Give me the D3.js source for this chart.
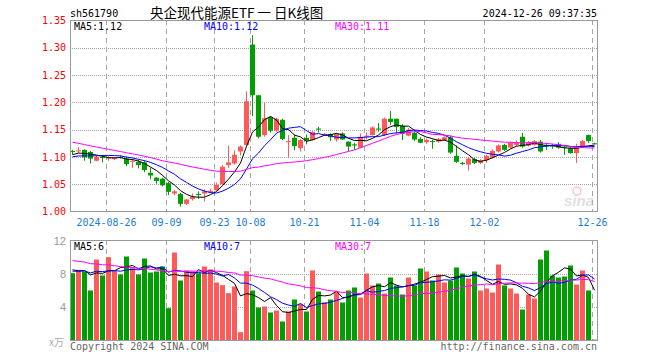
<!DOCTYPE html>
<html>
<head>
<meta charset="utf-8">
<script src="https://cdn.jsdelivr.net/npm/d3@7"></script>
<style>
body { margin: 0; background: #fff; }
.mono { font-family: "DejaVu Sans Mono", monospace; font-size: 10px; }
</style>
</head>
<body>
<div id="chart"></div>
<script>
// trading days shown (MM-DD, 2024)
var dates = ["08-16","08-19","08-20","08-21","08-22","08-23","08-26","08-27","08-28","08-29","08-30",
    "09-02","09-03","09-04","09-05","09-06","09-09","09-10","09-11","09-12","09-13","09-18","09-19","09-20",
    "09-23","09-24","09-25","09-26","09-27","09-30",
    "10-08","10-09","10-10","10-11","10-14","10-15","10-16","10-17","10-18","10-21","10-22","10-23","10-24","10-25",
    "10-28","10-29","10-30","10-31",
    "11-01","11-04","11-05","11-06","11-07","11-08","11-11","11-12","11-13","11-14","11-15","11-18","11-19","11-20",
    "11-21","11-22","11-25","11-26","11-27","11-28","11-29",
    "12-02","12-03","12-04","12-05","12-06","12-09","12-10","12-11","12-12","12-13","12-16","12-17","12-18","12-19",
    "12-20","12-23","12-24","12-25","12-26"];

var open = [1.111,1.110,1.113,1.109,1.093,1.100,1.097,1.096,1.100,1.097,1.091,1.091,1.090,1.071,1.062,1.060,
    1.052,1.033,1.032,1.014,1.023,1.032,1.033,1.035,1.039,1.050,1.085,1.088,1.110,1.122,
    1.306,1.213,1.140,1.173,1.148,1.168,1.127,1.135,1.116,1.135,1.131,1.152,1.142,1.142,1.132,1.143,1.128,1.123,
    1.117,1.137,1.140,1.152,1.140,1.170,1.170,1.157,1.139,1.144,1.133,1.127,1.129,1.128,1.131,1.136,1.102,1.089,
    1.086,1.096,1.089,1.094,1.099,1.110,1.122,1.117,1.122,1.137,1.121,1.122,1.128,1.122,1.122,1.124,1.119,1.116,
    1.107,1.119,1.140,1.125];
var high = [1.113,1.118,1.114,1.111,1.102,1.103,1.102,1.100,1.103,1.101,1.096,1.095,1.093,1.080,1.063,1.062,
    1.054,1.039,1.034,1.023,1.033,1.037,1.041,1.042,1.053,1.085,1.121,1.112,1.121,1.220,
    1.323,1.214,1.199,1.175,1.172,1.170,1.140,1.141,1.133,1.141,1.147,1.155,1.144,1.143,1.143,1.145,1.129,1.126,
    1.143,1.145,1.156,1.162,1.172,1.184,1.170,1.160,1.153,1.147,1.136,1.134,1.132,1.135,1.138,1.139,1.121,1.091,
    1.099,1.098,1.096,1.104,1.114,1.123,1.124,1.128,1.130,1.144,1.129,1.131,1.131,1.126,1.124,1.127,1.120,1.118,
    1.124,1.131,1.141,1.126];
var low = [1.104,1.107,1.093,1.088,1.092,1.090,1.093,1.094,1.097,1.083,1.080,1.079,1.072,1.059,1.051,1.046,
    1.030,1.030,1.009,1.012,1.020,1.023,1.018,1.034,1.037,1.048,1.080,1.086,1.103,1.118,
    1.175,1.134,1.137,1.145,1.146,1.131,1.099,1.112,1.110,1.123,1.130,1.145,1.139,1.129,1.128,1.131,1.110,1.113,
    1.116,1.132,1.139,1.146,1.138,1.159,1.143,1.131,1.138,1.129,1.125,1.124,1.115,1.126,1.129,1.106,1.089,1.085,
    1.075,1.087,1.087,1.089,1.097,1.108,1.111,1.115,1.120,1.117,1.119,1.121,1.108,1.113,1.115,1.115,1.104,1.106,
    1.089,1.117,1.126,1.123];
var close = [1.109,1.112,1.099,1.097,1.100,1.098,1.099,1.098,1.099,1.087,1.093,1.085,1.076,1.066,1.056,1.048,
    1.036,1.037,1.014,1.022,1.027,1.031,1.037,1.038,1.049,1.082,1.090,1.104,1.119,1.202,
    1.213,1.137,1.171,1.148,1.170,1.133,1.129,1.120,1.131,1.130,1.146,1.150,1.142,1.136,1.142,1.132,1.119,1.121,
    1.137,1.139,1.154,1.150,1.170,1.164,1.155,1.143,1.150,1.132,1.126,1.131,1.128,1.133,1.136,1.108,1.091,1.088,
    1.097,1.089,1.094,1.102,1.111,1.121,1.113,1.126,1.127,1.119,1.127,1.129,1.110,1.119,1.119,1.117,1.118,1.107,
    1.119,1.129,1.129,1.124];

// volume, 万
var volume = [8.08,8.48,8.28,6.0,9.72,7.8,10.0,8.32,7.92,10.08,8.72,7.92,9.84,8.16,8.28,8.88,
    3.88,10.56,7.2,8.4,8.28,8.08,8.88,8.52,6.96,6.64,5.68,6.48,1.0,8.32,
    6.0,3.96,4.08,3.36,3.6,2.28,3.48,4.92,4.4,3.48,8.4,5.88,4.6,4.92,5.8,4.56,6.0,6.36,
    5.16,8.04,6.6,6.84,5.64,7.56,6.6,5.52,7.56,6.6,8.64,8.28,7.2,7.92,6.96,7.2,8.76,8.04,
    7.44,8.28,6.0,6.24,5.76,9.12,6.6,6.24,5.64,3.72,5.52,5.04,9.72,10.8,7.8,7.56,7.68,9.0,
    6.72,8.4,6.0,0.1];

// sessions before the window, estimated from where the MA lines start
var priorClose = [1.172,1.170,1.165,1.166,1.162,1.160,1.158,1.162,1.155,1.150,1.148,1.145,1.140,1.142,1.137,
    1.100,1.094,1.090,1.096,1.095,1.095,1.099,1.097,1.098,1.092,1.098,1.102,1.104,1.108];
var priorVolume = [11.5,10.8,11.9,10.6,11.1,10.2,11.4,10.9,11.8,10.1,10.7,11.3,10.4,11.0,10.7,
    8.4,7.6,8.9,7.7,7.8,8.6,7.9,8.3,7.8,8.2,9.1,8.0,8.7,8.52];

var tickDates = ["08-26","09-09","09-23","10-08","10-21","11-04","11-18","12-02","12-26"];
var tickLabels = ["2024-08-26","09-09","09-23","10-08","10-21","11-04","11-18","12-02","12-26"];
var priceTicks = [1.00,1.05,1.10,1.15,1.20,1.25,1.30,1.35];
var volTicks = [4,8,12];
var maPeriods = [5,10,30];
var maColors = ["#000","#00f","#f0f"];
var priceMaText = ["MA5:1.12","MA10:1.12","MA30:1.11"];
var volMaText = ["MA5:6","MA10:7","MA30:7"];

var UP = "#ff5a5a", DOWN = "#009e00", GRID = "#a5a5a5";

function movingAvg(series, prior, n) {
    var all = prior.concat(series);
    return series.map(function (d, i) {
        var j = i + prior.length;
        return d3.mean(all.slice(j - n + 1, j + 1));
    });
}

var w = 660, h = 360,
    left = 70, right = 598,
    top1 = 20, bottom1 = 212,
    top2 = 240, bottom2 = 340;

var svg = d3.select("#chart").append("svg")
    .attr("width", w).attr("height", h)
    .style("display", "block");

var x = d3.scaleBand().domain(dates).range([left, right])
    .paddingInner(1 / 6).paddingOuter(1 / 12).align(0);
var bw = x.bandwidth();
var cx = function (d) { return x(d) + bw / 2; };

var y = d3.scaleLinear().domain([1.00, 1.35]).range([bottom1 - 0.5, top1 + 0.5]);
var yv = d3.scaleLinear().domain([0, 12]).range([bottom2 + 0.5, top2 + 0.5]);

var candles = dates.map(function (d, i) {
    return {date: d, o: open[i], h: high[i], l: low[i], c: close[i], v: volume[i]};
});

// ---------- grids ----------
function grid(y0, y1, hVals, scale) {
    var g = svg.append("g");
    g.selectAll(".vg").data(tickDates).enter().append("line")
        .attr("x1", function (d) { return x(d) + 0.5; })
        .attr("x2", function (d) { return x(d) + 0.5; })
        .attr("y1", y0).attr("y2", y1)
        .attr("stroke", GRID).attr("stroke-dasharray", "5,4");
    g.selectAll(".hg").data(hVals).enter().append("line")
        .attr("x1", left).attr("x2", right)
        .attr("y1", function (d) { return Math.round(scale(d)) + 0.5; })
        .attr("y2", function (d) { return Math.round(scale(d)) + 0.5; })
        .attr("stroke", GRID).attr("stroke-dasharray", "1,1");
}
grid(top1, bottom1, priceTicks.slice(1, -1), y);
grid(top2, bottom2, [4, 8], yv);

// sina watermark
var wm = svg.append("g").attr("opacity", 0.45);
wm.append("circle").attr("cx", 577).attr("cy", 191).attr("r", 4)
    .attr("fill", "none").attr("stroke", "#f7a0a0").attr("stroke-width", 2);
wm.append("text").attr("x", 564).attr("y", 206)
    .attr("font-family", "Liberation Sans, sans-serif").attr("font-size", 15)
    .attr("font-weight", "bold").attr("font-style", "italic")
    .attr("fill", "#bbb").text("sina");

// ---------- candles ----------
var cg = svg.append("g");
cg.selectAll(".wick").data(candles).enter().append("line")
    .attr("x1", cx).attr("x2", cx)
    .attr("y1", function (d) { return y(d.h); })
    .attr("y2", function (d) { return y(d.l); })
    .attr("stroke", function (d) { return d.c >= d.o ? UP : DOWN; })
    .attr("x1", function (d) { return Math.floor(cx(d.date)) + 0.5; })
    .attr("x2", function (d) { return Math.floor(cx(d.date)) + 0.5; });
cg.selectAll(".body").data(candles).enter().append("rect")
    .attr("x", function (d) { return x(d.date); })
    .attr("width", bw)
    .attr("y", function (d) { return y(Math.max(d.o, d.c)); })
    .attr("height", function (d) { return Math.max(1, Math.abs(y(d.o) - y(d.c))); })
    .attr("fill", function (d) { return d.c >= d.o ? UP : DOWN; });

// ---------- volume bars ----------
svg.append("g").selectAll("rect").data(candles).enter().append("rect")
    .attr("x", function (d) { return x(d.date); })
    .attr("width", bw)
    .attr("y", function (d) { return yv(d.v); })
    .attr("height", function (d) { return yv(0) - yv(d.v); })
    .attr("fill", function (d) { return d.c >= d.o ? UP : DOWN; });

// ---------- moving averages ----------
function drawMA(series, prior, scale) {
    maPeriods.forEach(function (n, k) {
        var ma = movingAvg(series, prior, n);
        var line = d3.line()
            .x(function (d, i) { return cx(dates[i]); })
            .y(function (d) { return scale(d); });
        svg.append("path").datum(ma)
            .attr("d", line)
            .attr("fill", "none")
            .attr("stroke", maColors[k])
            .attr("stroke-width", 1);
    });
}
drawMA(close, priorClose, y);
drawMA(volume, priorVolume, yv);

// ---------- frames ----------
svg.append("rect").attr("x", left + 0.5).attr("y", top1 + 0.5)
    .attr("width", right - left - 1).attr("height", bottom1 - top1 - 1)
    .attr("fill", "none").attr("stroke", "#999");
svg.append("rect").attr("x", left + 0.5).attr("y", top2 + 0.5)
    .attr("width", right - left - 1).attr("height", bottom2 - top2)
    .attr("fill", "none").attr("stroke", "#999");

// ---------- axes ----------
var ay = svg.append("g").attr("transform", "translate(" + left + ",0)")
    .call(d3.axisLeft(y).tickValues(priceTicks).tickSize(0).tickPadding(4)
        .tickFormat(d3.format(".2f")));
ay.select(".domain").remove();
ay.selectAll("text").attr("class", "mono").attr("font-family", null).attr("font-size", null)
    .attr("fill", "#f00");

var av = svg.append("g").attr("transform", "translate(" + left + ",0)")
    .call(d3.axisLeft(yv).tickValues(volTicks).tickSize(0).tickPadding(4)
        .tickFormat(d3.format("d")));
av.select(".domain").remove();
av.selectAll("text").attr("font-family", "Liberation Sans, sans-serif")
    .attr("font-size", 11).attr("fill", "#999");

svg.append("g").selectAll("text").data(tickDates).enter().append("text")
    .attr("class", "mono")
    .attr("x", function (d) { return x(d) + 0.5; })
    .attr("y", 225.5)
    .attr("text-anchor", "middle")
    .attr("fill", "#1c7cd5")
    .text(function (d, i) { return tickLabels[i]; });

// ---------- labels ----------
var maX = [74, 204, 335];
maX.forEach(function (mx, k) {
    svg.append("text").attr("class", "mono").attr("x", mx).attr("y", 29.5)
        .attr("fill", maColors[k]).text(priceMaText[k]);
    svg.append("text").attr("class", "mono").attr("x", mx).attr("y", 249.5)
        .attr("fill", maColors[k]).text(volMaText[k]);
});

svg.append("text").attr("class", "mono").attr("x", 70).attr("y", 17).attr("fill", "#000").text("sh561790");
svg.append("text").attr("x", 150).attr("y", 18)
    .attr("font-family", "Noto Sans CJK SC, sans-serif").attr("font-size", 13.5)
    .attr("fill", "#000").text("央企现代能源ETF 一 日K线图");
svg.append("text").attr("class", "mono").attr("x", 597).attr("y", 17)
    .attr("text-anchor", "end").attr("fill", "#000").text("2024-12-26 09:37:35");

svg.append("text").attr("x", 64).attr("y", 346).attr("text-anchor", "end")
    .attr("font-family", "Noto Sans CJK SC, sans-serif").attr("font-size", 10)
    .attr("fill", "#aaa").text("x万");
svg.append("text").attr("class", "mono").attr("x", 70).attr("y", 350)
    .attr("fill", "#666").text("Copyright 2024 SINA.COM");
svg.append("text").attr("class", "mono").attr("x", 597).attr("y", 350)
    .attr("text-anchor", "end").attr("fill", "#666").text("http://finance.sina.com.cn");
</script>
</body>
</html>
